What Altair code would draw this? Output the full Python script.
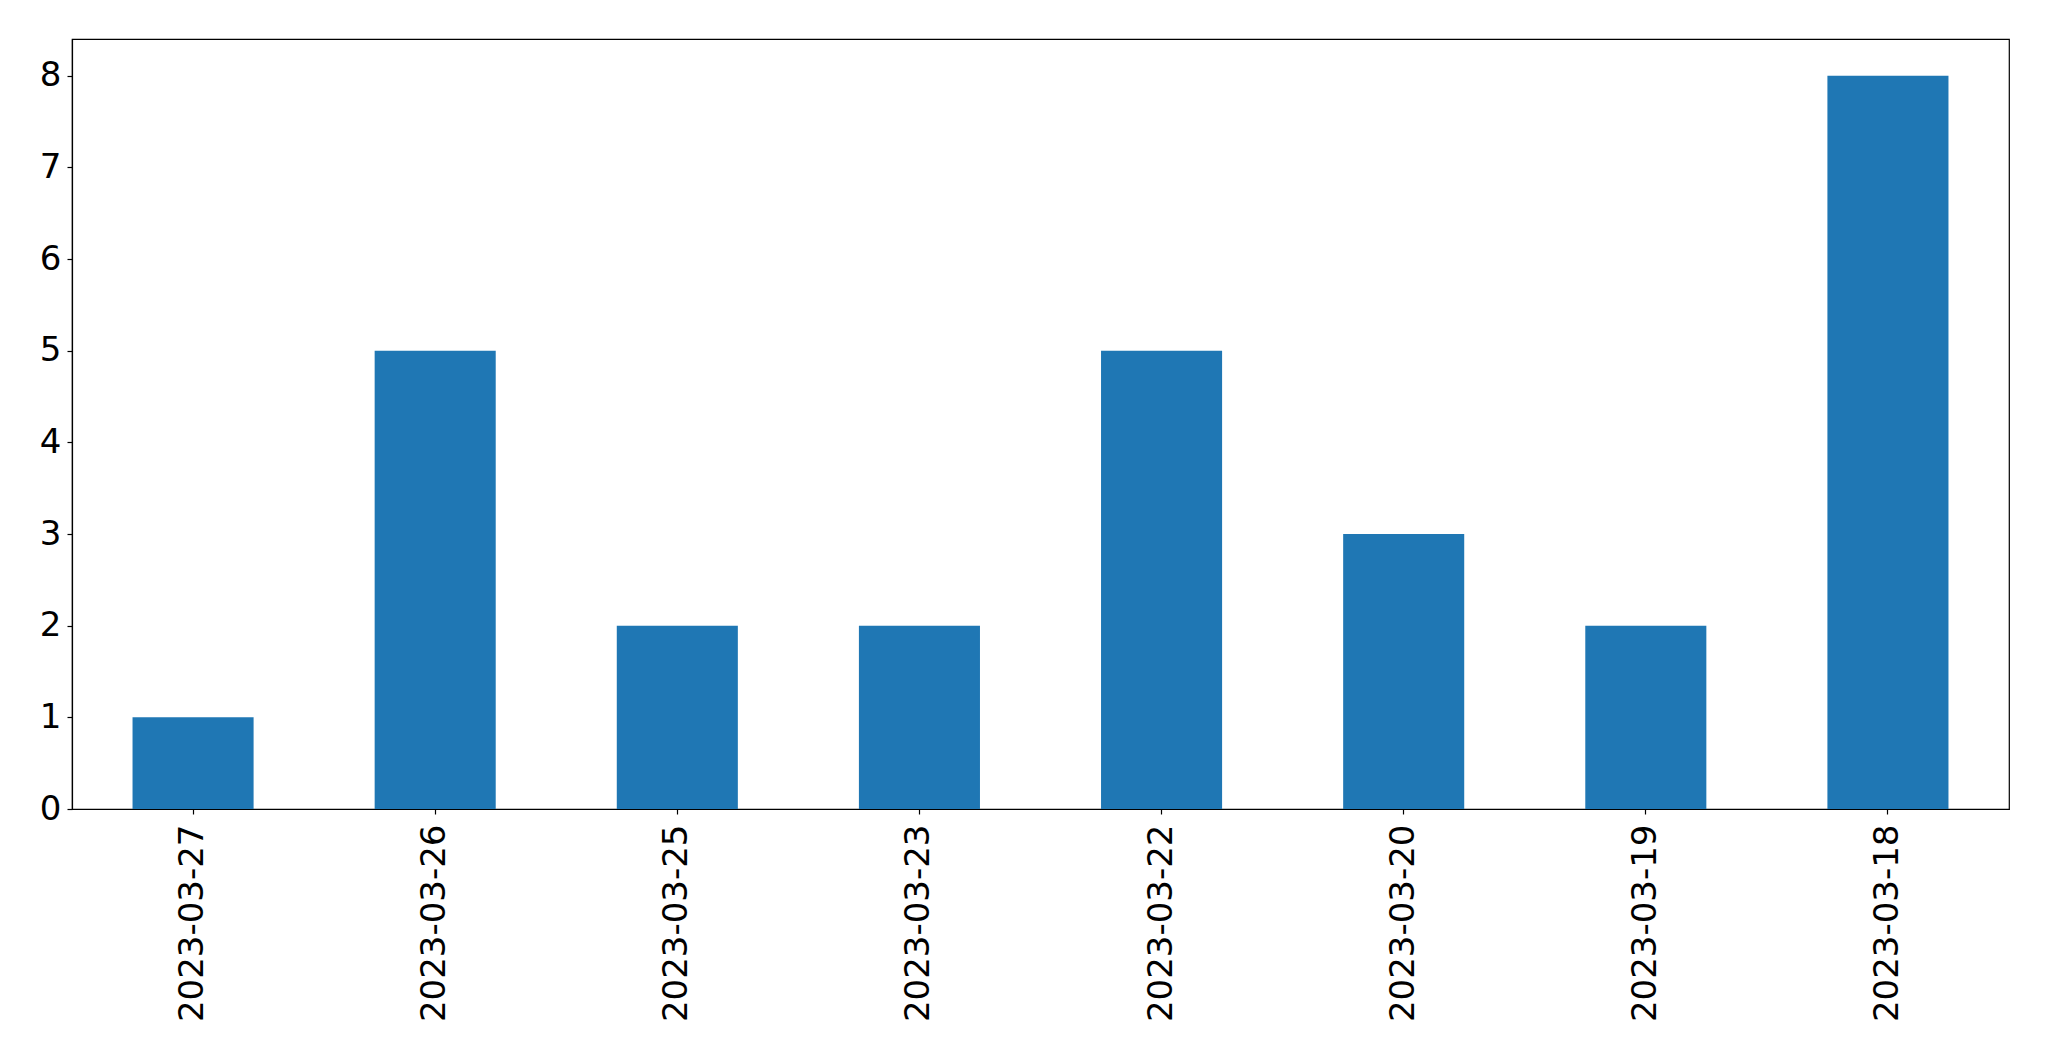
import altair as alt
import pandas as pd

dates = ["2023-03-27", "2023-03-26", "2023-03-25", "2023-03-23",
         "2023-03-22", "2023-03-20", "2023-03-19", "2023-03-18"]
counts = [1, 5, 2, 2, 5, 3, 2, 8]

df = pd.DataFrame({"date": dates, "count": counts})

chart = alt.Chart(df).mark_bar(color="#1f77b4").encode(
    x=alt.X("date:N", sort=None, title=None,
            scale=alt.Scale(paddingInner=0.5, paddingOuter=0.25),
            axis=alt.Axis(labelAngle=-90, labelFontSize=34, labelFont="DejaVu Sans",
                          labelColor="black", tickColor="black", domainColor="black",
                          tickSize=5, labelPadding=10, tickWidth=1.2, domainWidth=1.2,
                          labelLimit=0)),
    y=alt.Y("count:Q", title=None,
            scale=alt.Scale(domain=[0, 8.4], nice=False),
            axis=alt.Axis(values=list(range(0, 9)), grid=False, labelFontSize=34,
                          labelFont="DejaVu Sans", labelColor="black", tickColor="black",
                          domainColor="black", tickSize=5, labelPadding=6,
                          tickWidth=1.2, domainWidth=1.2)),
).properties(
    width=1937,
    height=770,
    background="white",
    autosize=alt.AutoSizeParams(type="none"),
    padding={"left": 64, "top": 31, "right": 30, "bottom": 240},
).configure_view(stroke="black", strokeWidth=1.2)

chart.save("out.html", embed_options={"renderer": "svg", "actions": False})
